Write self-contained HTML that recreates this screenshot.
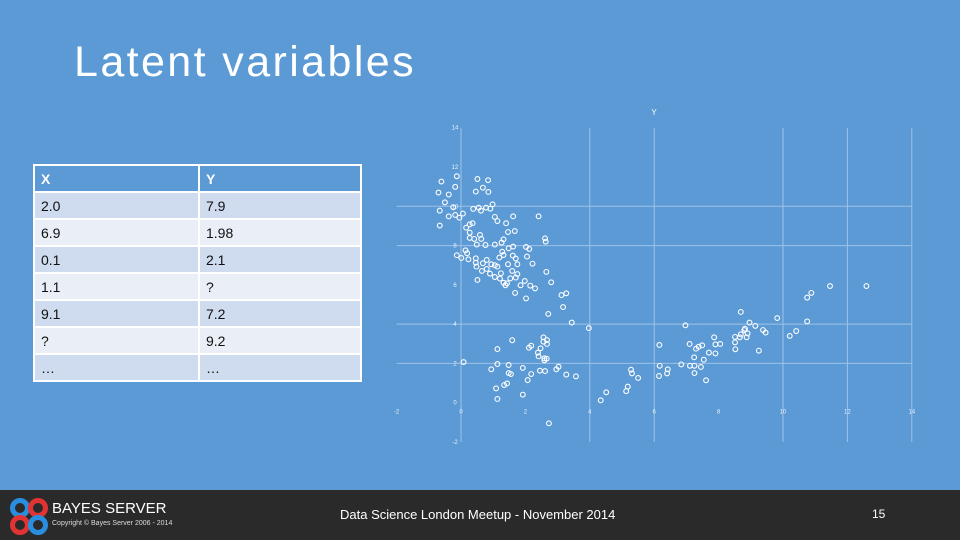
<!DOCTYPE html>
<html><head><meta charset="utf-8"><style>
body{margin:0;width:960px;height:540px;overflow:hidden;background:#5b9ad5;font-family:"Liberation Sans",sans-serif;position:relative}
#title{position:absolute;left:74px;top:38px;font-size:43px;color:#fff;font-weight:normal;letter-spacing:2.4px}
table{position:absolute;left:33px;top:164px;width:329px;border-collapse:collapse;font-size:14px}
td{border:2px solid #fff;height:25px;padding:0 0 0 6px;color:#111}
tr.h td{background:#5b9ad5;color:#fff;font-weight:bold}
tr.a td{background:#cfdbee}
tr.b td{background:#e9eef7}
#footer{position:absolute;left:0;top:490px;width:960px;height:50px;background:#2a2a2a}
</style></head><body>
<div id="title">Latent variables</div>
<table>
<tr class="h"><td style="width:157px">X</td><td>Y</td></tr>
<tr class="a"><td>2.0</td><td>7.9</td></tr>
<tr class="b"><td>6.9</td><td>1.98</td></tr>
<tr class="a"><td>0.1</td><td>2.1</td></tr>
<tr class="b"><td>1.1</td><td>?</td></tr>
<tr class="a"><td>9.1</td><td>7.2</td></tr>
<tr class="b"><td>?</td><td>9.2</td></tr>
<tr class="a"><td>…</td><td>…</td></tr>
</table>
<svg id="chart" width="960" height="540" style="position:absolute;left:0;top:0"></svg>
<div id="footer">
<svg width="50" height="40" style="position:absolute;left:8px;top:7px">
<circle cx="12" cy="11" r="7.5" fill="none" stroke="#2a8ee0" stroke-width="5"/>
<circle cx="30" cy="11" r="7.5" fill="none" stroke="#e03333" stroke-width="5"/>
<circle cx="12" cy="28" r="7.5" fill="none" stroke="#e03333" stroke-width="5"/>
<circle cx="30" cy="28" r="7.5" fill="none" stroke="#2a8ee0" stroke-width="5"/>
</svg>
<div style="position:absolute;left:52px;top:10px;color:#fff;font-size:15px">BAYES SERVER</div>
<div style="position:absolute;left:52px;top:30px;color:#ddd;font-size:7px">Copyright © Bayes Server 2006 - 2014</div>
<div style="position:absolute;left:340px;top:17px;color:#fff;font-size:13px">Data Science London Meetup - November 2014</div>
<div style="position:absolute;left:872px;top:17px;color:#fff;font-size:12px">15</div>
</div>
<script>
const xs=[-0.61,-0.13,-0.70,-0.38,-0.18,-0.50,-0.66,-0.24,-0.38,-0.18,-0.05,0.06,-0.66,0.51,0.84,0.46,0.68,0.85,0.38,0.55,0.62,0.78,0.91,0.98,1.05,1.13,1.62,2.41,0.16,0.27,0.36,0.27,0.27,0.41,0.59,0.63,0.49,0.76,1.05,1.32,1.26,1.40,1.46,1.67,0.14,0.19,-0.13,0.01,0.23,0.46,0.46,0.48,0.68,0.80,0.94,1.05,1.13,0.65,0.80,0.90,1.05,1.21,1.32,1.43,1.38,1.53,1.70,1.75,1.59,1.24,0.51,1.48,1.62,1.28,1.32,1.61,1.70,1.75,1.46,1.19,1.85,1.98,2.15,2.30,2.02,2.12,2.05,2.22,2.61,2.63,2.65,2.80,1.68,2.02,3.12,3.27,3.17,2.71,3.44,3.97,
0.08,1.13,1.59,1.13,0.94,1.48,1.48,1.55,1.09,1.13,1.34,1.43,1.92,1.92,2.07,2.18,2.11,2.18,2.39,2.41,2.47,2.56,2.56,2.67,2.67,2.59,2.66,2.59,2.45,2.61,2.96,3.03,3.27,3.57,2.73,
4.34,4.51,5.13,5.18,5.28,5.31,5.50,6.16,6.17,6.15,6.42,6.40,6.84,6.97,7.10,7.11,7.25,7.24,7.25,7.30,7.38,7.49,7.45,7.54,7.61,7.70,7.86,7.90,7.90,8.05,8.51,8.51,8.52,8.66,8.69,8.69,8.80,8.82,8.87,8.90,8.96,9.14,9.25,9.38,9.46,9.82,10.21,10.41,10.75,10.75,10.88,11.46,12.59];
const ys=[11.26,11.53,10.70,10.60,10.99,10.20,9.78,9.95,9.49,9.56,9.42,9.63,9.02,11.39,11.33,10.75,10.95,10.73,9.87,9.93,9.78,9.93,9.88,10.10,9.46,9.25,9.49,9.49,8.91,9.08,9.14,8.66,8.39,8.34,8.54,8.34,8.05,8.03,8.05,8.32,8.15,9.14,8.69,8.74,7.76,7.61,7.51,7.37,7.30,7.35,7.13,6.93,7.10,7.27,7.05,7.00,6.93,6.71,6.81,6.57,6.40,6.32,6.11,6.08,5.98,6.33,6.37,6.55,6.71,6.59,6.25,7.86,7.95,7.69,7.52,7.49,7.34,7.05,7.05,7.39,5.98,6.20,5.96,5.82,7.93,7.83,7.44,7.08,8.37,8.20,6.66,6.13,5.59,5.31,5.48,5.57,4.87,4.52,4.08,3.80,
2.07,2.73,3.18,1.97,1.70,1.92,1.51,1.46,0.73,0.19,0.90,0.98,1.77,0.41,1.15,1.46,2.80,2.90,2.55,2.36,2.77,3.33,3.11,3.19,2.99,2.26,2.24,2.16,1.63,1.61,1.70,1.83,1.43,1.34,-1.05,
0.12,0.53,0.59,0.82,1.68,1.49,1.26,2.94,1.88,1.36,1.70,1.49,1.95,3.94,2.99,1.88,1.88,2.31,1.51,2.75,2.85,2.92,1.82,2.19,1.14,2.55,3.33,2.97,2.51,2.99,3.35,3.07,2.72,3.33,3.48,4.62,3.70,3.77,3.33,3.53,4.08,3.91,2.65,3.70,3.57,4.31,3.40,3.65,4.14,5.35,5.59,5.94,5.94];
const xTicks=[-2,0,2,4,6,8,10,12,14];
const yTicks=[-2,0,2,4,6,8,10,12,14];
const vGrid=[0,4,6,10,12,14];
const hGrid=[2,4,8,10];
const X=v=>461+v*32.2, Y=v=>402.7-v*19.64;
const svg=document.getElementById('chart'),NS='http://www.w3.org/2000/svg';
function mk(t,a){const e=document.createElementNS(NS,t);for(const k in a)e.setAttribute(k,a[k]);svg.appendChild(e);return e;}
vGrid.forEach(v=>{const l=mk('line',{x1:X(v),x2:X(v),y1:Y(14),y2:Y(-2),stroke:'#9fc2e8','stroke-width':1});

});
hGrid.forEach(v=>{const l=mk('line',{x1:X(-2),x2:X(14),y1:Y(v),y2:Y(v),stroke:'#9fc2e8','stroke-width':1});

});
xTicks.forEach(v=>{const t=mk('text',{x:X(v),y:Y(0)+11,'font-size':6,fill:'#e8f0fa','text-anchor':'middle'});t.textContent=v;

});
yTicks.forEach(v=>{const t=mk('text',{x:X(0)-6,y:Y(v)+2,'font-size':6,fill:'#e8f0fa','text-anchor':'middle'});t.textContent=v;

});
const tt=mk('text',{x:654,y:115,'font-size':8,fill:'#fff','text-anchor':'middle'});tt.textContent='Y';


xs.forEach((x,i)=>{const c=mk('circle',{cx:X(x),cy:Y(ys[i]),r:2.4,fill:'none',stroke:'#fff','stroke-width':1.1});

});
</script>
</body></html>
